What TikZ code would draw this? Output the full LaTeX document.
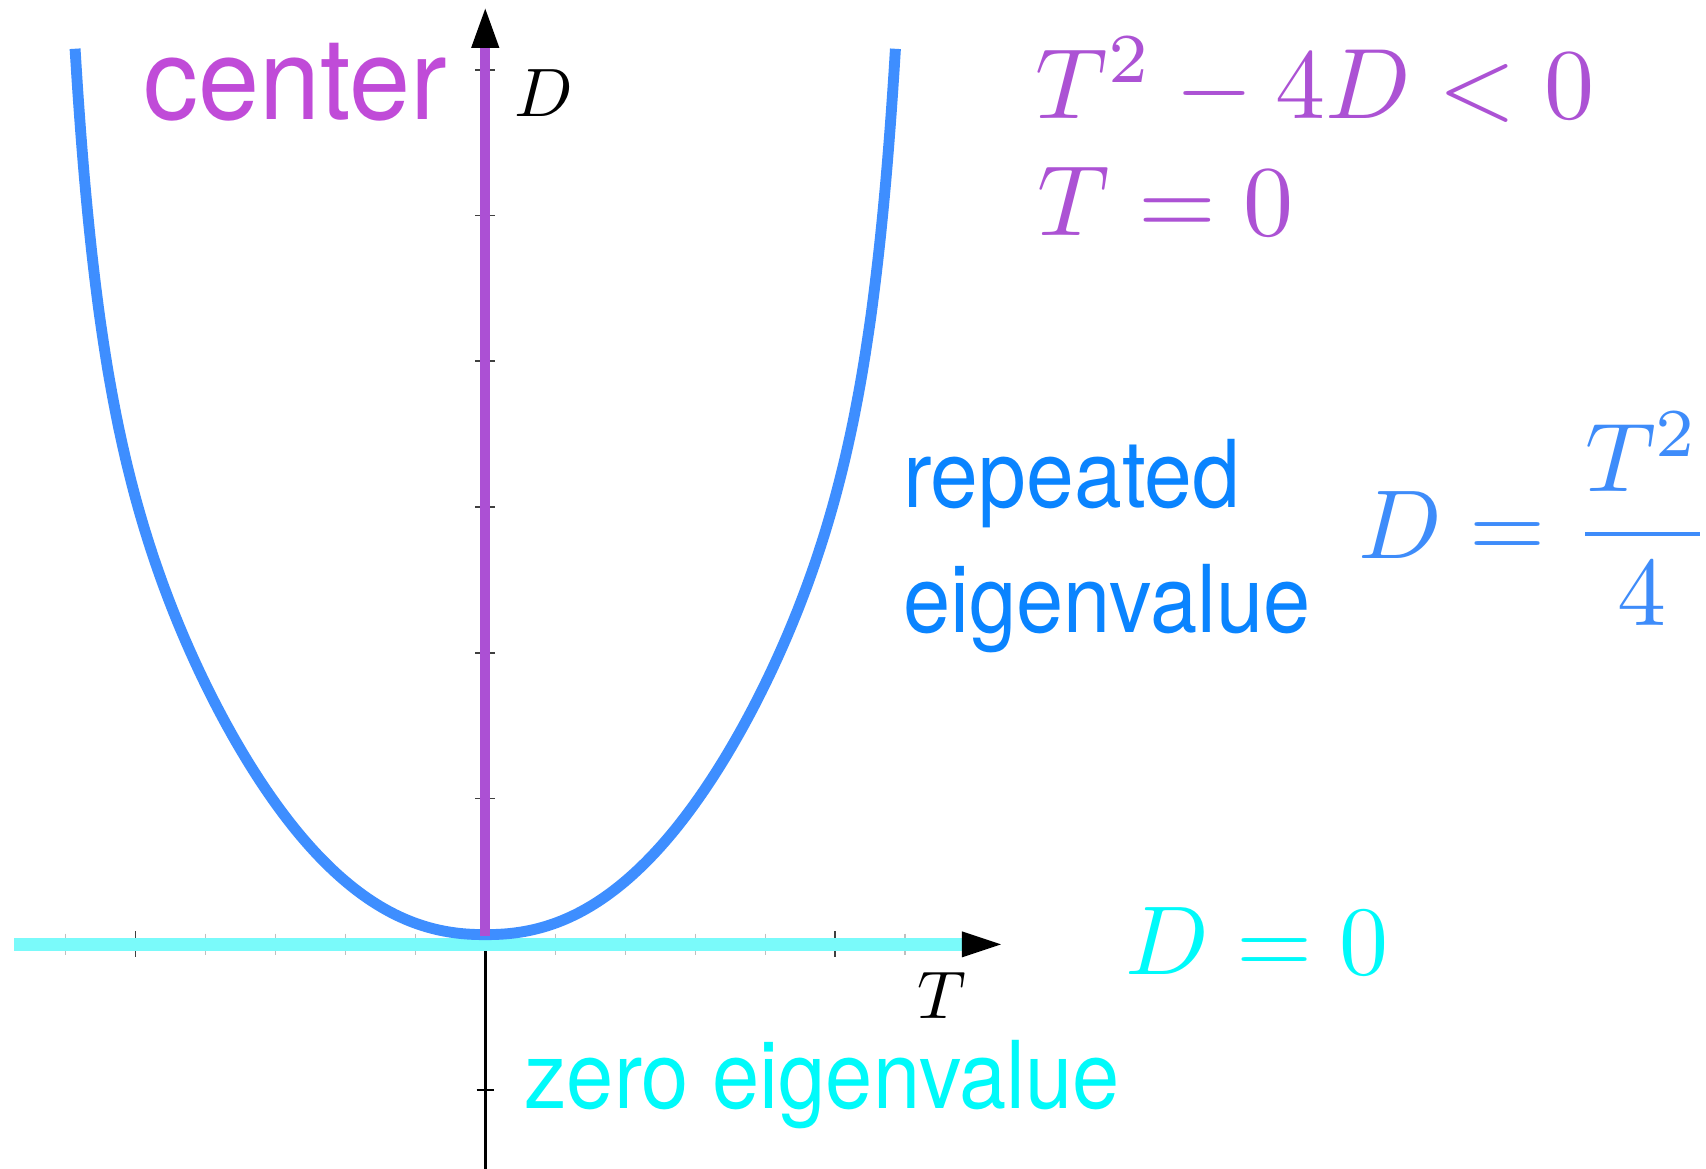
\documentclass[tikz,border=0pt]{standalone}
\usepackage{graphicx}
\usepackage{fontspec}
\newfontfamily\hv{TeX Gyre Heros}
\definecolor{curveblue}{RGB}{62,142,255}
\definecolor{purpleline}{RGB}{172,80,212}
\definecolor{centercol}{RGB}{192,75,216}
\definecolor{eqpurple}{RGB}{172,82,212}
\definecolor{textblue}{RGB}{10,132,255}
\definecolor{eqblue}{RGB}{62,140,250}
\definecolor{cyanline}{RGB}{122,250,250}
\definecolor{cyantext}{RGB}{0,250,250}
\tikzset{
  lbl/.style={anchor=base west, inner sep=0pt, outer sep=0pt},
  tickmajor/.style={black!75, line width=1.6pt},
  tickminor/.style={black!25, line width=1pt},
}
\begin{document}
\begin{tikzpicture}[x=1pt,y=-1pt]
\fill[white] (0,0) rectangle (1568,1074);
\useasboundingbox (0,0) rectangle (1568,1074);

% black axes (under coloured lines)
\coordinate (O) at (446,868);
\coordinate (Dtop) at (446,44);
\coordinate (Dbot) at (446,1074);
\coordinate (Tleft) at (13,868);
\coordinate (Tright) at (884,868);
\draw[black, line width=3pt] (Dbot) -- (Dtop);
\draw[black, line width=2pt] (Tleft) -- (Tright);

% D-axis ticks
\foreach \yy in {64,198,332,466,600,734}
  \draw[tickmajor] (437,\yy) -- (455,\yy);
\draw[black, line width=2pt] (438,1002) -- (454,1002);

% T-axis ticks
\foreach \k in {1,2,3,4,6}{
  \draw[tickminor] ({446-64.3*\k},858) -- ({446-64.3*\k},878);
  \draw[tickminor] ({446+64.3*\k},858) -- ({446+64.3*\k},878);
}
\draw[tickmajor] (124.5,856) -- (124.5,880);
\draw[tickmajor] (767.5,856) -- (767.5,880);

% cyan line D = 0
\draw[cyanline, line width=12pt] (Tleft) -- (Tright);

% repeated-eigenvalue curve
\draw[curveblue, line width=10pt] plot[domain=-377:377, samples=601]
  ({446+\x}, {859 - pow((abs(\x)+0.01)/22.3, 2.222)/(1 - pow((abs(\x)+0.01)/417.5, 10.5))});

% purple line T = 0
\draw[purpleline, line width=9pt] (Dtop) -- (446,860);

% arrow heads
\fill[black] (446,8) -- (433,44) -- (459,44) -- cycle;
\fill[black] (920,868) -- (884,856) -- (884,880) -- cycle;

% axis labels
\node[lbl] (Dlab) at (473,107) {\scalebox{6.3}{$D$}};
\node[lbl] (Tlab) at (843,936) {\scalebox{6.2}{$T$}};

% texts
\node[lbl, text=centercol] (center) at (132,110) {\hv\scalebox{10.1}[10.5]{center}};
\node[lbl, text=eqpurple] (eq1) at (952,109) {\scalebox{9.2}{$T^2-4D<0$}};
\node[lbl, text=eqpurple] (eq2) at (954,216) {\scalebox{9.2}{$T=0$}};

\node[lbl, text=textblue] (rep) at (830,466) {\hv\scalebox{7.9}[8.6]{repeated}};
\node[lbl, text=textblue] (eig) at (830,581) {\hv\scalebox{7.8}[8.6]{eigenvalue}};
\node[lbl, text=eqblue] (eq3) at (1249,513) {\scalebox{9.0}{$D=\displaystyle\frac{T^2}{4}$}};

\node[lbl, text=cyantext] (eq4) at (1034,896) {\scalebox{9.0}{$D=0$}};
\node[lbl, text=cyantext] (zero) at (482,1019) {\hv\scalebox{7.8}[8.6]{zero eigenvalue}};
\end{tikzpicture}
\end{document}
